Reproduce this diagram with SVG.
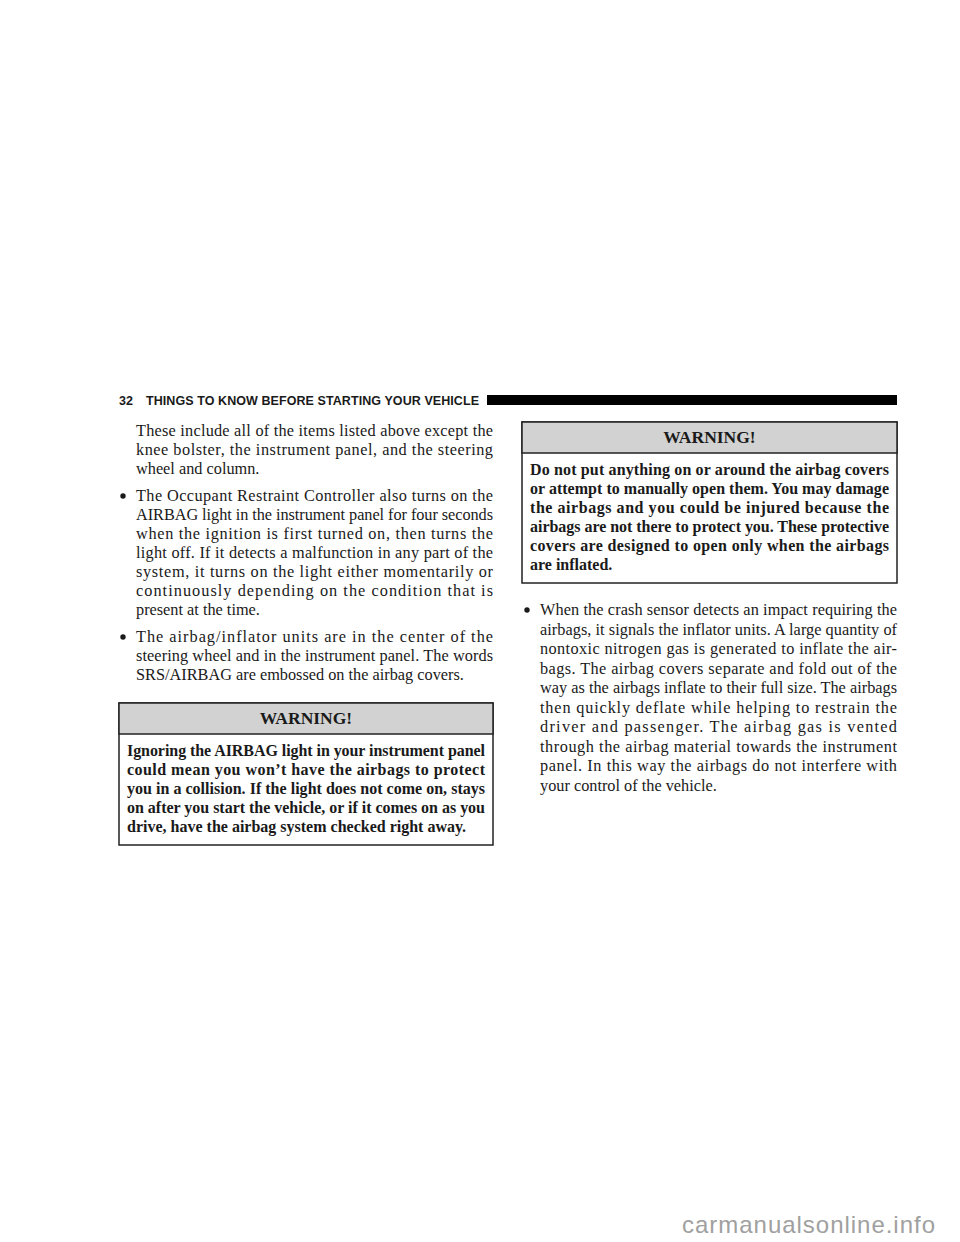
<svg xmlns="http://www.w3.org/2000/svg" width="960" height="1242" viewBox="0 0 960 1242">
<style>
.b{font-family:"Liberation Serif","Times New Roman",serif;font-size:16.3px;fill:#1a1a1a}
.w{font-family:"Liberation Serif","Times New Roman",serif;font-size:16px;font-weight:bold;fill:#1a1a1a}
.h{font-family:"Liberation Serif","Times New Roman",serif;font-size:17.5px;font-weight:bold;fill:#1a1a1a}
.hd{font-family:"Liberation Sans",Arial,sans-serif;font-size:12.5px;font-weight:bold;fill:#1a1a1a}
.box{fill:#fff;stroke:#222;stroke-width:1.5}
.hbox{fill:#d2d2d2;stroke:#222;stroke-width:1.5}
.dot{fill:#1a1a1a}
.wm{font-family:"Liberation Sans",Arial,sans-serif;font-size:24px;fill:#a0a0a0}
</style>
<rect width="960" height="1242" fill="#fff"/>
<g id="header">
<text class="hd" x="119" y="405">32</text>
<text class="hd" x="146" y="405" textLength="333" lengthAdjust="spacing">THINGS TO KNOW BEFORE STARTING YOUR VEHICLE</text>
<rect x="487" y="395" width="410" height="10" fill="#000"/>
</g>
<g id="left-text">
<text class="b" x="136" y="436" textLength="357" lengthAdjust="spacing">These include all of the items listed above except the</text>
<text class="b" x="136" y="455" textLength="357" lengthAdjust="spacing">knee bolster, the instrument panel, and the steering</text>
<text class="b" x="136" y="474">wheel and column.</text>
<circle class="dot" cx="123" cy="496" r="2.7"/>
<text class="b" x="136" y="501" textLength="357" lengthAdjust="spacing">The Occupant Restraint Controller also turns on the</text>
<text class="b" x="136" y="520" textLength="357" lengthAdjust="spacing">AIRBAG light in the instrument panel for four seconds</text>
<text class="b" x="136" y="539" textLength="357" lengthAdjust="spacing">when the ignition is first turned on, then turns the</text>
<text class="b" x="136" y="558" textLength="357" lengthAdjust="spacing">light off. If it detects a malfunction in any part of the</text>
<text class="b" x="136" y="577" textLength="357" lengthAdjust="spacing">system, it turns on the light either momentarily or</text>
<text class="b" x="136" y="596" textLength="357" lengthAdjust="spacing">continuously depending on the condition that is</text>
<text class="b" x="136" y="615">present at the time.</text>
<circle class="dot" cx="123" cy="637" r="2.7"/>
<text class="b" x="136" y="642" textLength="357" lengthAdjust="spacing">The airbag/inflator units are in the center of the</text>
<text class="b" x="136" y="661" textLength="357" lengthAdjust="spacing">steering wheel and in the instrument panel. The words</text>
<text class="b" x="136" y="680">SRS/AIRBAG are embossed on the airbag covers.</text>
</g>
<g id="warning-left">
<rect class="box" x="119" y="703" width="374" height="142"/>
<rect class="hbox" x="119" y="703" width="374" height="31"/>
<text class="h" x="306" y="724" text-anchor="middle">WARNING!</text>
<text class="w" x="127" y="756" textLength="358" lengthAdjust="spacing">Ignoring the AIRBAG light in your instrument panel</text>
<text class="w" x="127" y="775" textLength="358" lengthAdjust="spacing">could mean you won’t have the airbags to protect</text>
<text class="w" x="127" y="794" textLength="358" lengthAdjust="spacing">you in a collision. If the light does not come on, stays</text>
<text class="w" x="127" y="813" textLength="358" lengthAdjust="spacing">on after you start the vehicle, or if it comes on as you</text>
<text class="w" x="127" y="832">drive, have the airbag system checked right away.</text>
</g>
<g id="warning-right">
<rect class="box" x="522" y="422" width="375" height="161"/>
<rect class="hbox" x="522" y="422" width="375" height="31"/>
<text class="h" x="709.5" y="443" text-anchor="middle">WARNING!</text>
<text class="w" x="530" y="475" textLength="359" lengthAdjust="spacing">Do not put anything on or around the airbag covers</text>
<text class="w" x="530" y="494" textLength="359" lengthAdjust="spacing">or attempt to manually open them. You may damage</text>
<text class="w" x="530" y="513" textLength="359" lengthAdjust="spacing">the airbags and you could be injured because the</text>
<text class="w" x="530" y="532" textLength="359" lengthAdjust="spacing">airbags are not there to protect you. These protective</text>
<text class="w" x="530" y="551" textLength="359" lengthAdjust="spacing">covers are designed to open only when the airbags</text>
<text class="w" x="530" y="570">are inflated.</text>
</g>
<g id="right-text">
<circle class="dot" cx="527" cy="610" r="2.7"/>
<text class="b" x="540" y="615" textLength="357" lengthAdjust="spacing">When the crash sensor detects an impact requiring the</text>
<text class="b" x="540" y="634.5" textLength="357" lengthAdjust="spacing">airbags, it signals the inflator units. A large quantity of</text>
<text class="b" x="540" y="654" textLength="357" lengthAdjust="spacing">nontoxic nitrogen gas is generated to inflate the air-</text>
<text class="b" x="540" y="673.5" textLength="357" lengthAdjust="spacing">bags. The airbag covers separate and fold out of the</text>
<text class="b" x="540" y="693" textLength="357" lengthAdjust="spacing">way as the airbags inflate to their full size. The airbags</text>
<text class="b" x="540" y="712.5" textLength="357" lengthAdjust="spacing">then quickly deflate while helping to restrain the</text>
<text class="b" x="540" y="732" textLength="357" lengthAdjust="spacing">driver and passenger. The airbag gas is vented</text>
<text class="b" x="540" y="751.5" textLength="357" lengthAdjust="spacing">through the airbag material towards the instrument</text>
<text class="b" x="540" y="771" textLength="357" lengthAdjust="spacing">panel. In this way the airbags do not interfere with</text>
<text class="b" x="540" y="790.5">your control of the vehicle.</text>
</g>
<text class="wm" x="682" y="1233" textLength="253" lengthAdjust="spacing">carmanualsonline.info</text>
</svg>
